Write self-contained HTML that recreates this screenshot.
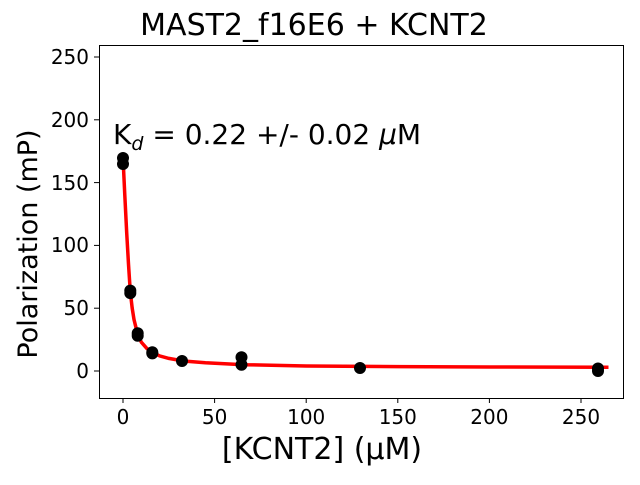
<!DOCTYPE html>
<html><head><style>body{margin:0;background:#fff}</style></head><body>
<svg width="640" height="480" xmlns="http://www.w3.org/2000/svg" font-family="DejaVu Sans, Liberation Sans, sans-serif">
<rect width="640" height="480" fill="#fff"/>
<text x="314" y="35" font-size="30" text-anchor="middle">MAST2_f16E6 + KCNT2</text>
<polyline fill="none" stroke="#f00" stroke-width="3.5" points="123,157.5 124.8,195.2 126.7,232.8 128.5,264.2 130.3,291.9 132.2,308.2 134,319.5 137.7,334.6 141.3,342.1 146.8,348.4 152.3,352.2 159.6,355.9 168.8,358.4 183.5,361 205.4,362.8 243.9,364.7 306.2,366 397.8,366.6 489.4,367 608.5,367.2"/>
<g fill="#000">
<circle cx="123" cy="158" r="6"/><circle cx="123" cy="164" r="6"/>
<circle cx="130.3" cy="290.6" r="6"/><circle cx="130.3" cy="293.1" r="6"/>
<circle cx="137.7" cy="333.3" r="6"/><circle cx="137.7" cy="335.8" r="6"/>
<circle cx="152.3" cy="352.2" r="6"/><circle cx="152.3" cy="353.4" r="6"/>
<circle cx="182" cy="361" r="6"/>
<circle cx="241.5" cy="357.2" r="6"/><circle cx="241.5" cy="364.7" r="6"/>
<circle cx="360" cy="368" r="6"/>
<circle cx="598" cy="368.5" r="6"/><circle cx="598" cy="371" r="6"/>
</g>
<rect x="99.5" y="45.5" width="524" height="353" fill="none" stroke="#000" stroke-width="1"/>
<g stroke="#000" stroke-width="1">
<line x1="123" y1="398" x2="123" y2="403"/><line x1="214.6" y1="398" x2="214.6" y2="403"/><line x1="306.2" y1="398" x2="306.2" y2="403"/><line x1="397.8" y1="398" x2="397.8" y2="403"/><line x1="489.4" y1="398" x2="489.4" y2="403"/><line x1="581" y1="398" x2="581" y2="403"/>
<line x1="94" y1="371" x2="99" y2="371"/><line x1="94" y1="308.2" x2="99" y2="308.2"/><line x1="94" y1="245.4" x2="99" y2="245.4"/><line x1="94" y1="182.6" x2="99" y2="182.6"/><line x1="94" y1="119.8" x2="99" y2="119.8"/><line x1="94" y1="57" x2="99" y2="57"/>
</g>
<g font-size="20" text-anchor="middle">
<text x="123" y="424">0</text><text x="214.6" y="424">50</text><text x="306.2" y="424">100</text><text x="397.8" y="424">150</text><text x="489.4" y="424">200</text><text x="581" y="424">250</text>
</g>
<g font-size="20" text-anchor="end">
<text x="89" y="378">0</text><text x="89" y="315">50</text><text x="89" y="252">100</text><text x="89" y="190">150</text><text x="89" y="127">200</text><text x="89" y="64">250</text>
</g>
<text x="322" y="459" font-size="30" text-anchor="middle">[KCNT2] (μM)</text>
<text transform="translate(37,244) rotate(-90)" font-size="27" text-anchor="middle">Polarization (mP)</text>
<text x="113" y="144" font-size="28">K<tspan font-size="19" dy="6" font-style="italic">d</tspan><tspan dy="-6"> = 0.22 +/- 0.02 </tspan><tspan font-style="italic">μ</tspan>M</text>
</svg>
</body></html>
